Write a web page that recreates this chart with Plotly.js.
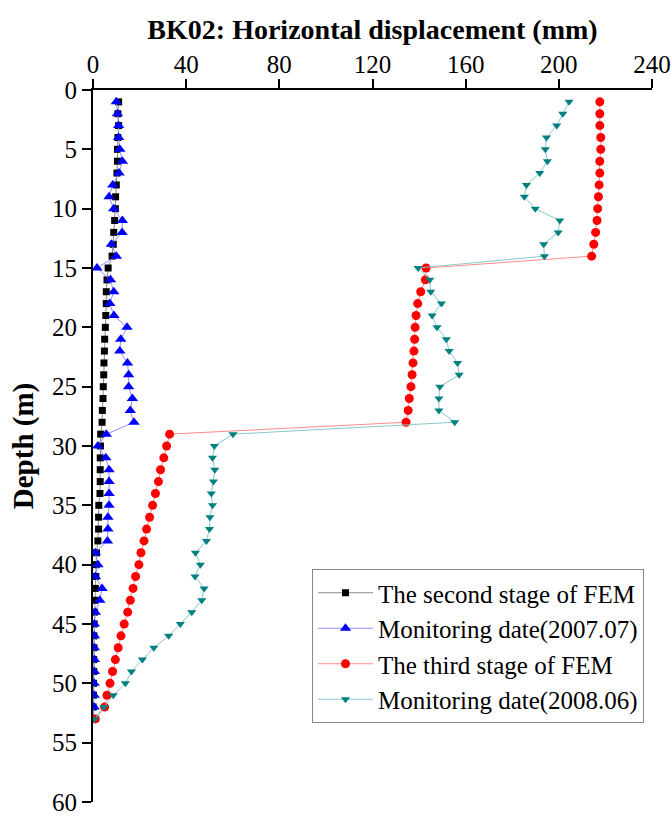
<!DOCTYPE html>
<html>
<head>
<meta charset="utf-8">
<script src="https://cdn.plot.ly/plotly-3.0.1.min.js"></script>
<style>html,body{margin:0;padding:0;background:#fff;}#chart{width:672px;height:817px;}</style>
</head>
<body>
<div id="chart"></div>
<script>
const depth = [1,2,3,4,5,6,7,8,9,10,11,12,13,14,15,16,17,18,19,20,21,22,23,24,25,26,27,28,29,30,31,32,33,34,35,36,37,38,39,40,41,42,43,44,45,46,47,48,49,50,51,52,53];

const secondStageFEM = [11.0,10.7,11.0,10.7,10.5,10.5,10.3,10.0,9.7,9.6,9.3,8.9,8.7,8.2,6.5,6.0,5.7,5.7,5.5,5.3,5.0,4.9,4.7,4.6,4.4,4.3,4.0,3.9,3.3,3.2,3.1,3.1,3.1,3.0,2.5,2.4,2.4,2.1,1.5,1.3,1.2,1.0,0.8,0.6,0.5,0.4,0.4,0.3,0.3,0.2,0.2,0.1,0.0];

const monitoring200707 = [10.0,10.5,11.0,11.0,11.5,12.6,11.2,8.5,6.9,8.9,12.6,12.5,7.9,10.0,1.7,7.5,8.9,7.2,9.0,14.6,11.9,11.5,14.8,15.3,15.3,16.9,16.0,17.6,5.7,2.1,5.5,6.9,6.9,6.9,6.9,6.4,6.4,6.2,1.0,2.1,1.0,3.9,2.9,1.0,0.6,0.6,0.6,0.6,0.6,0.5,0.5,0.5,0.3];

const thirdStageFEM = [217.6,217.6,217.6,218.0,218.0,217.6,217.6,217.3,217.0,216.7,216.4,215.8,215.0,214.1,143.0,142.7,140.7,139.4,138.7,138.3,138.1,137.8,137.4,137.0,136.5,135.8,135.3,134.4,32.9,31.6,30.4,29.0,28.1,26.8,25.6,24.3,23.0,21.9,20.6,19.7,18.3,17.2,16.0,14.9,13.4,12.0,10.8,9.6,8.4,7.3,6.0,5.0,1.0];

const monitoring200806 = [204.4,201.7,199.1,194.7,194.2,195.1,191.8,186.1,185.2,189.9,200.4,199.7,193.5,193.8,139.6,144.6,145.0,149.6,145.6,147.7,151.7,152.9,156.5,157.2,148.9,148.5,148.5,155.3,60.1,52.1,51.3,52.3,51.7,50.8,51.3,50.2,50.0,48.7,44.0,46.1,43.8,47.7,46.7,42.4,37.5,32.5,26.1,21.2,16.5,13.9,8.7,4.7,0.7];

const seriesNames = ["The second stage of FEM","Monitoring date(2007.07)","The third stage of FEM","Monitoring date(2008.06)"];
const xTicks = [0,40,80,120,160,200,240];
const yTicks = [0,5,10,15,20,25,30,35,40,45,50,55,60];

const FONT = "Liberation Serif";

const traces = [
  {x: secondStageFEM, y: depth, name: seriesNames[0], mode: "lines+markers",
   line: {color: "#8c8c8c", width: 1}, marker: {symbol: "square", size: 7, color: "#000000"}},
  {x: monitoring200707, y: depth, name: seriesNames[1], mode: "lines+markers",
   line: {color: "#8f8fff", width: 1}, marker: {symbol: "triangle-up", size: 10, color: "#0000ff"}},
  {x: thirdStageFEM, y: depth, name: seriesNames[2], mode: "lines+markers",
   line: {color: "#ff8c8c", width: 1}, marker: {symbol: "circle", size: 9, color: "#ff0000"}},
  {x: monitoring200806, y: depth, name: seriesNames[3], mode: "lines+markers",
   line: {color: "#8ac8c8", width: 1}, marker: {symbol: "triangle-down", size: 8, color: "#008080"}}
];

const axisFont = {family: FONT, size: 25, color: "#000"};

const layout = {
  width: 672, height: 817,
  margin: {l: 93, r: 20, t: 90, b: 15},
  paper_bgcolor: "#ffffff", plot_bgcolor: "#ffffff",
  font: {family: FONT, size: 25, color: "#000"},
  title: {text: "<b>BK02: Horizontal displacement (mm)</b>", font: {family: FONT, size: 28, color: "#000"},
          x: 0.5, xref: "paper", xanchor: "center", y: 1 - 29/817, yanchor: "middle"},
  xaxis: {side: "top", range: [0, 240], tickmode: "array", tickvals: xTicks, ticktext: xTicks.map(String),
          showgrid: false, zeroline: false, showline: true, linecolor: "#000", linewidth: 2,
          ticks: "outside", ticklen: 9, tickwidth: 2, tickcolor: "#000", ticklabelstandoff: -4,
          tickfont: axisFont, ticklabeloverflow: "allow", fixedrange: true},
  yaxis: {range: [60, 0], tickmode: "array", tickvals: yTicks, ticktext: yTicks.map(String),
          showgrid: false, zeroline: false, showline: true, linecolor: "#000", linewidth: 2,
          ticks: "outside", ticklen: 9, tickwidth: 2, tickcolor: "#000",
          tickfont: axisFont, ticklabeloverflow: "allow",
          title: {text: "<b>Depth (m)</b>", font: {family: FONT, size: 29, color: "#000"}, standoff: 10},
          automargin: false, fixedrange: true},
  showlegend: true,
  legend: {x: (312-93)/559, y: 1 - (569-90)/712, xanchor: "left", yanchor: "top",
           bgcolor: "#ffffff", bordercolor: "#888", borderwidth: 1,
           font: {family: FONT, size: 25, color: "#000"}, tracegroupgap: 0, itemwidth: 55}
};

Plotly.newPlot("chart", traces, layout, {staticPlot: true, displayModeBar: false});
</script>
</body>
</html>
